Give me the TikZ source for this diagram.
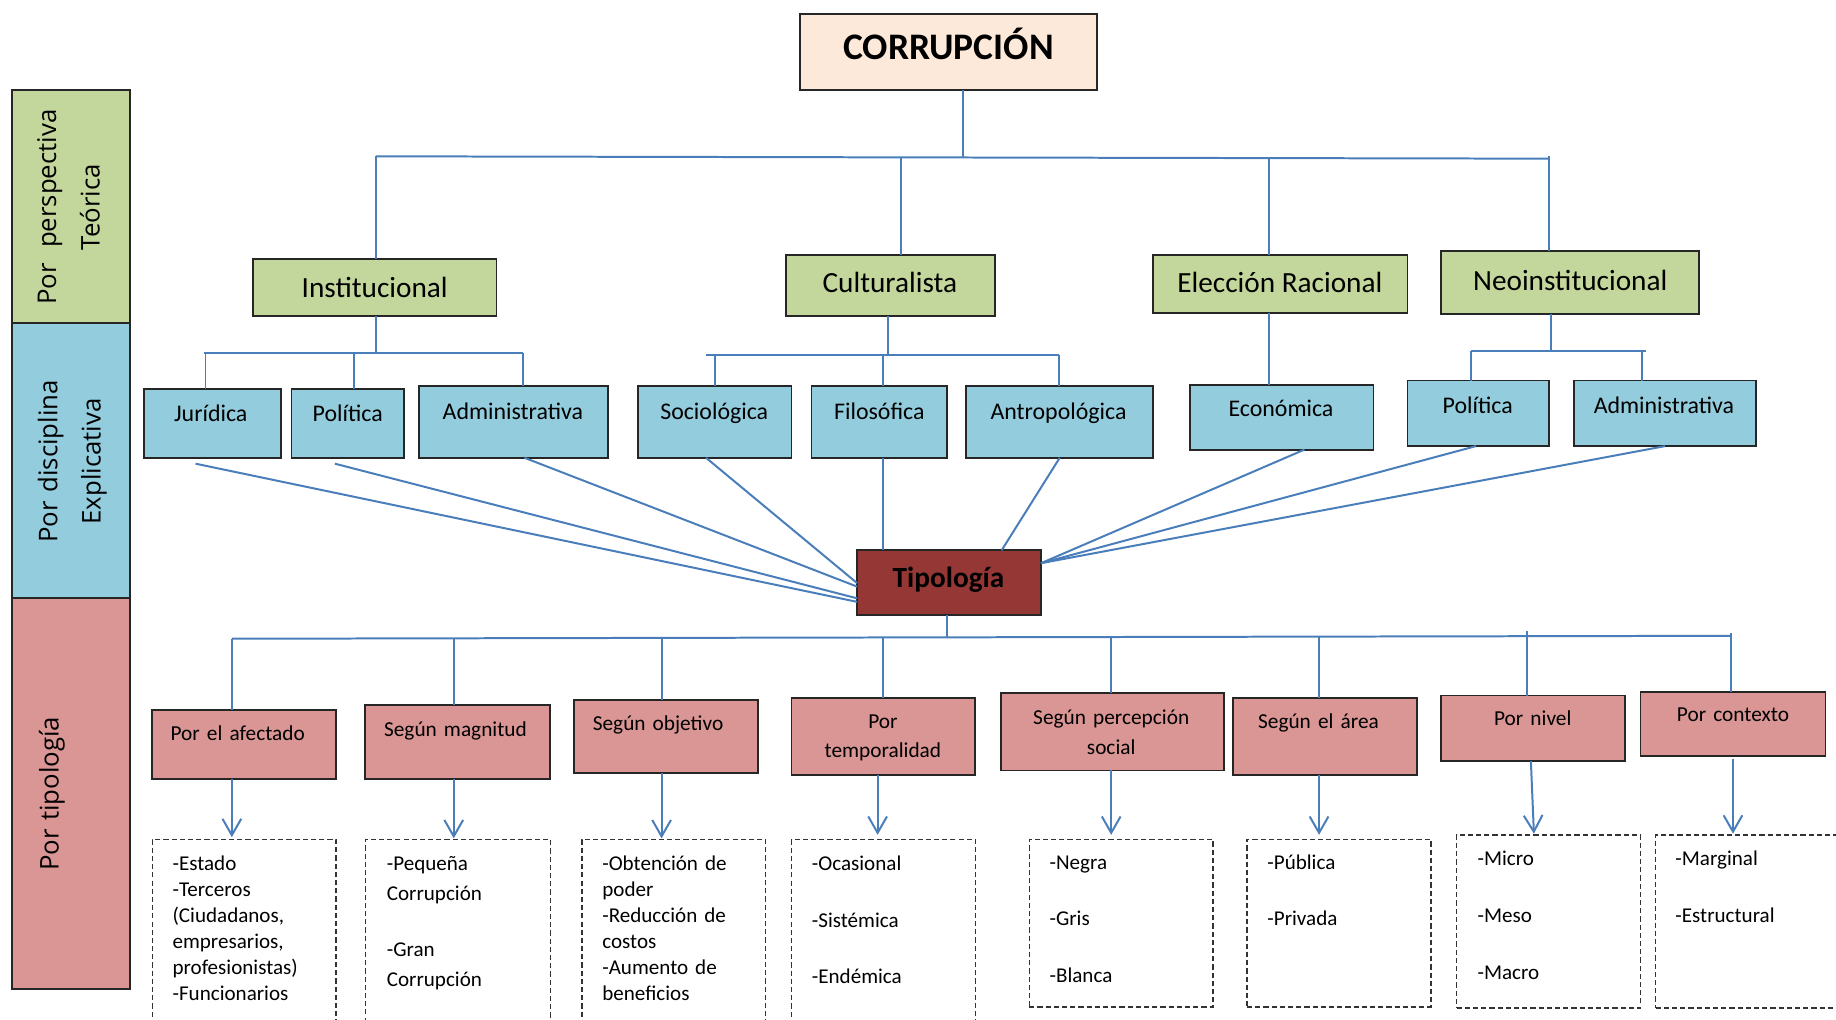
\documentclass[tikz,border=0pt]{standalone}
\usepackage{fontspec}
\setmainfont{Carlito}
\newfontfamily\sidefont{Open Sans}
\usetikzlibrary{arrows.meta}
\definecolor{gfill}{HTML}{C3D69B}
\definecolor{bfill}{HTML}{93CDDD}
\definecolor{pfill}{HTML}{D99694}
\definecolor{rfill}{HTML}{953735}
\definecolor{cfill}{HTML}{FDE9D9}
\definecolor{lnc}{HTML}{4A7EBB}
\begin{document}
\begin{tikzpicture}[x=0.5pt,y=-0.5pt,
  box/.style={draw=black!85, line width=0.8pt, anchor=north west, inner sep=0pt, outer sep=0pt},
  gbox/.style={box, fill=gfill},
  bbox/.style={box, fill=bfill},
  pbox/.style={box, fill=pfill},
  dbox/.style={draw=black!80, line width=0.6pt, dash pattern=on 2.2pt off 1.3pt, anchor=north west, inner sep=0pt, outer sep=0pt},
  txt/.style={inner sep=0pt, anchor=base},
  fcorr/.style={txt, font=\fontsize{16pt}{19pt}\selectfont\bfseries},
  fgreen/.style={txt, font=\fontsize{12.5pt}{15pt}\selectfont},
  fblue/.style={txt, font=\fontsize{10.2pt}{12pt}\selectfont},
  fpink/.style={txt, font=\fontsize{9.1pt}{12.5pt}\selectfont, text width=95pt, align=center},
  fdash/.style={inner sep=0pt, anchor=base west, text width=78pt, align=left},
  fside/.style={inner sep=0pt, anchor=base, rotate=90, text width=120pt, align=center, font=\sidefont\fontsize{11pt}{18.5pt}\selectfont},
  ln/.style={draw=lnc, line width=0.85pt},
  arr/.style={ln, -{Straight Barb[length=7pt,width=8pt]}}
]
\useasboundingbox (0,0) rectangle (1568,871);
\fill[white] (0,0) rectangle (1568,871);
\clip (0,0) rectangle (1568,871);

% side bars
\node[gbox, minimum width=50.5pt, minimum height=99.5pt] (sg) at (10,77) {};
\node[bbox, minimum width=50.5pt, minimum height=117.5pt] (sb) at (10,276) {};
\node[pbox, minimum width=50.5pt, minimum height=167pt] (sp) at (10,511) {};
\node[fside] (sgT) at (48,177) {Por\hspace{0.6em}perspectiva\\Teórica};
\node[fside] (sbT) at (49,394) {Por disciplina\\Explicativa};
\node[fside] (spT) at (50,678) {Por tipología};

% top
\node[box, fill=cfill, minimum width=127pt, minimum height=32.5pt] (corr) at (683,12) {};
\node[fcorr] (corrT) at (810,51) {CORRUPCIÓN};

% green
\node[gbox, minimum width=104pt, minimum height=24.5pt] (inst) at (216,221) {};
\node[gbox, minimum width=89.5pt, minimum height=26pt] (cult) at (671,218) {};
\node[gbox, minimum width=108.5pt, minimum height=24.5pt] (elec) at (985,218) {};
\node[gbox, minimum width=110pt, minimum height=27pt] (neo) at (1231,214) {};
\node[fgreen] (instT) at (320,254) {Institucional};
\node[fgreen] (cultT) at (760,250) {Culturalista};
\node[fgreen] (elecT) at (1093,250) {Elección Racional};
\node[fgreen] (neoT) at (1341,248) {Neoinstitucional};

% blue
\node[bbox, minimum width=58.5pt, minimum height=29.5pt] (jur) at (123,332) {};
\node[bbox, minimum width=48pt, minimum height=29.5pt] (pol1) at (249,332) {};
\node[bbox, minimum width=80.5pt, minimum height=30.5pt] (adm1) at (358,330) {};
\node[bbox, minimum width=65.5pt, minimum height=30.5pt] (soc) at (545,330) {};
\node[bbox, minimum width=58pt, minimum height=30.5pt] (fil) at (693,330) {};
\node[bbox, minimum width=80pt, minimum height=30.5pt] (ant) at (825,330) {};
\node[bbox, minimum width=78.5pt, minimum height=27.5pt] (eco) at (1016,329) {};
\node[bbox, minimum width=60.5pt, minimum height=28pt] (pol2) at (1202,325) {};
\node[bbox, minimum width=78pt, minimum height=28pt] (adm2) at (1344,325) {};
\node[fblue] (jurT) at (180,360) {Jurídica};
\node[fblue] (pol1T) at (297,360) {Política};
\node[fblue] (adm1T) at (438,358) {Administrativa};
\node[fblue] (socT) at (610,358) {Sociológica};
\node[fblue] (filT) at (751,358) {Filosófica};
\node[fblue] (antT) at (904,358) {Antropológica};
\node[fblue] (ecoT) at (1094,356) {Económica};
\node[fblue] (pol2T) at (1262,353) {Política};
\node[fblue] (adm2T) at (1421,353) {Administrativa};

% tipologia
\node[box, fill=rfill, minimum width=78.5pt, minimum height=27.5pt] (tip) at (732,470) {};
\node[fcorr, font=\fontsize{12.5pt}{15pt}\selectfont\bfseries] (tipT) at (810,502) {Tipología};

% pink
\node[pbox, minimum width=78.5pt, minimum height=29.5pt] (p1) at (130,606) {};
\node[pbox, minimum width=79pt, minimum height=31.5pt] (p2) at (312,602) {};
\node[pbox, minimum width=78.5pt, minimum height=31pt] (p3) at (490,598) {};
\node[pbox, minimum width=78.5pt, minimum height=33pt] (p4) at (676,596) {};
\node[pbox, minimum width=95pt, minimum height=33pt] (p5) at (855,592) {};
\node[pbox, minimum width=78.5pt, minimum height=33pt] (p6) at (1053,596) {};
\node[pbox, minimum width=78.5pt, minimum height=28pt] (p7) at (1231,594) {};
\node[pbox, minimum width=79pt, minimum height=27.5pt] (p8) at (1401,591) {};
\node[fpink] (p1T) at (203,632) {Por el afectado};
\node[fpink] (p2T) at (389,629) {Según magnitud};
\node[fpink] (p3T) at (562,624) {Según objetivo};
\node[fpink] (p4T) at (754,622) {Por\\temporalidad};
\node[fpink] (p5T) at (949,619) {Según percepción\\social};
\node[fpink] (p6T) at (1126,622) {Según el área};
\node[fpink] (p7T) at (1309,620) {Por nivel};
\node[fpink] (p8T) at (1480,616) {Por contexto};

% dashed
\node[dbox, minimum width=78.5pt, minimum height=91.5pt] (d1) at (130,717) {};
\node[dbox, minimum width=79pt, minimum height=91.5pt] (d2) at (312,717) {};
\node[dbox, minimum width=78.5pt, minimum height=91.5pt] (d3) at (497,717) {};
\node[dbox, minimum width=78.5pt, minimum height=91.5pt] (d4) at (676,717) {};
\node[dbox, minimum width=78.5pt, minimum height=71.5pt] (d5) at (879,717) {};
\node[dbox, minimum width=78.5pt, minimum height=71.5pt] (d6) at (1065,717) {};
\node[dbox, minimum width=78.5pt, minimum height=74pt] (d7) at (1244,713) {};
\node[dbox, minimum width=93pt, minimum height=74pt] (d8) at (1414,713) {};
\node[fdash, font=\fontsize{9pt}{11.1pt}\selectfont] (d1T) at (147,743.5) {-Estado\\-Terceros\\(Ciudadanos,\\empresarios,\\profesionistas)\\-Funcionarios};
\node[fdash, font=\fontsize{9pt}{12.9pt}\selectfont] (d2T) at (330,743.5) {-Pequeña\\Corrupción\\[10.9pt]-Gran\\Corrupción};
\node[fdash, font=\fontsize{9pt}{11.1pt}\selectfont] (d3T) at (514,743.5) {-Obtención de\\poder\\-Reducción de\\costos\\-Aumento de\\beneficios};
\node[fdash, font=\fontsize{9pt}{24.2pt}\selectfont] (d4T) at (693,743.5) {-Ocasional\\-Sistémica\\-Endémica};
\node[fdash, font=\fontsize{9pt}{24.3pt}\selectfont] (d5T) at (896,742.2) {-Negra\\-Gris\\-Blanca};
\node[fdash, font=\fontsize{9pt}{24.3pt}\selectfont] (d6T) at (1082,742.2) {-Pública\\-Privada};
\node[fdash, font=\fontsize{9pt}{24.2pt}\selectfont] (d7T) at (1261.5,739.3) {-Micro\\-Meso\\-Macro};
\node[fdash, font=\fontsize{9pt}{24.2pt}\selectfont] (d8T) at (1430.5,739.3) {-Marginal\\-Estructural};

% ---- connectors: top tree
\coordinate (b1L) at (321,133.5);
\coordinate (b1C) at (822.5,134.5);
\coordinate (b1M) at (769.3,134.5);
\coordinate (b1E) at (1083.7,135);
\coordinate (b1R) at (1323,135.5);
\draw[ln] (corr.south -| b1C) -- (b1C);
\draw[ln] (b1L) -- (b1R);
\draw[ln] (b1R) -- ++(0,-2.5);
\draw[ln] (b1L) -- (b1L |- inst.north);
\draw[ln] (b1M) -- (b1M |- cult.north);
\draw[ln] (b1E) -- (b1E |- elec.north);
\draw[ln] (b1R) -- (b1R |- neo.north);

% second level
\coordinate (b2C) at (321.5,301.5);
\coordinate (b2L) at (174.5,301.5);
\coordinate (b2M) at (302,301.5);
\coordinate (b2R) at (447,301.5);
\draw[ln] (inst.south -| b2C) -- (b2C);
\draw[ln] (b2L) -- (b2R);
\draw[ln] ([xshift=0.5pt]b2L) -- ([xshift=0.5pt]b2L |- jur.north);
\draw[ln] (b2M) -- (b2M |- pol1.north);
\draw[ln] (b2R) -- (b2R |- adm1.north);

\coordinate (b3C) at (758,303);
\coordinate (b3L) at (603,303);
\coordinate (b3S) at (610.5,303);
\coordinate (b3M) at (754.3,303);
\coordinate (b3R) at (904.7,303);
\draw[ln] (cult.south -| b3C) -- (b3C);
\draw[ln] (b3L) -- (b3R);
\draw[ln] (b3S) -- (b3S |- soc.north);
\draw[ln] (b3M) -- (b3M |- fil.north);
\draw[ln] (b3R) -- (b3R |- ant.north);

\coordinate (b4) at (1083.7,300);
\draw[ln] (elec.south -| b4) -- (eco.north -| b4);

\coordinate (b5C) at (1324.2,300);
\coordinate (b5L) at (1256.4,300);
\coordinate (b5R) at (1406,300);
\coordinate (b5A) at (1402.2,300);
\draw[ln] (neo.south -| b5C) -- (b5C);
\draw[ln] (b5L) -- (b5R);
\draw[ln] (b5L) -- (b5L |- pol2.north);
\draw[ln] (b5A) -- (b5A |- adm2.north);

% converging lines
\draw[ln] ([xshift=-7.25pt,yshift=-2.5pt]jur.south) -- ([yshift=-8.25pt]tip.west);
\draw[ln] ([xshift=-5.5pt,yshift=-2.5pt]pol1.south) -- ([yshift=-6.75pt]tip.west);
\draw[ln] ([xshift=4.75pt]adm1.south) -- ([yshift=-1.75pt]tip.west);
\draw[ln] ([xshift=-3.75pt]soc.south) -- ([yshift=-0.25pt]tip.west);
\draw[ln] ([xshift=1.65pt]fil.south) -- ([xshift=-28.1pt]tip.north);
\draw[ln] (ant.south) -- ([xshift=22.45pt]tip.north);
\draw[ln] ([xshift=9.75pt]eco.south) -- ([yshift=8.25pt]tip.east);
\draw[ln] ([xshift=-1pt]pol2.south) -- ([yshift=8.25pt]tip.east);
\draw[ln] (adm2.south) -- ([yshift=8.25pt]tip.east);

% bottom bus
\coordinate (v0) at (809,544.8);
\coordinate (v1) at (198,545.5);
\coordinate (v2) at (387.5,545.1);
\coordinate (v3) at (565,544.8);
\coordinate (v4) at (754.5,544.4);
\coordinate (v5) at (949,544);
\coordinate (v6) at (1126.5,543.7);
\coordinate (v7) at (1304,539);
\coordinate (v8) at (1478.2,541);
\coordinate (vR) at (1478.2,543);
\draw[ln] (tip.south -| v0) -- (v0);
\draw[ln] (v1) -- (vR);
\draw[ln] (v1) -- (v1 |- p1.north);
\draw[ln] (v2) -- (v2 |- p2.north);
\draw[ln] (v3) -- (v3 |- p3.north);
\draw[ln] (v4) -- (v4 |- p4.north);
\draw[ln] (v5) -- (v5 |- p5.north);
\draw[ln] (v6) -- (v6 |- p6.north);
\draw[ln] (v7) -- (v7 |- p7.north);
\draw[ln] (v8) -- (v8 |- p8.north);

% arrows
\draw[arr] ([xshift=-5.25pt]p1.south) -- ([xshift=-5.25pt,yshift=1pt]d1.north);
\draw[arr] ([xshift=-1.75pt]p2.south) -- ([xshift=-1.75pt,yshift=0.5pt]d2.north);
\draw[arr] ([xshift=-1.75pt]p3.south) -- ([xshift=-5.25pt,yshift=0.5pt]d3.north);
\draw[arr] ([xshift=-2.5pt]p4.south) -- ([xshift=-2.5pt,yshift=2pt]d4.north);
\draw[arr] ([xshift=-0.5pt]p5.south) -- ([xshift=-4.25pt,yshift=2pt]d5.north);
\draw[arr] ([xshift=-2.5pt]p6.south) -- ([xshift=-8.5pt,yshift=2pt]d6.north);
\draw[arr] ([xshift=-1.05pt]p7.south) -- ([xshift=-6.25pt,yshift=0.5pt]d7.north);
\draw[arr] ([yshift=-1pt]p8.south) -- ([xshift=-13.5pt,yshift=0.5pt]d8.north);
\end{tikzpicture}
\end{document}
